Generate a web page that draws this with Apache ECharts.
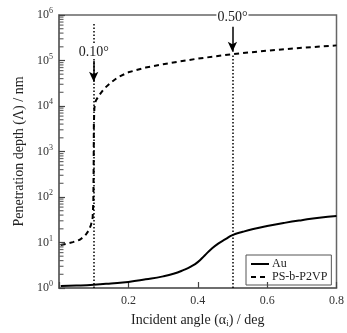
<!DOCTYPE html>
<html>
<head>
<meta charset="utf-8">
<script src="https://cdn.jsdelivr.net/npm/echarts@6/dist/echarts.min.js"></script>
<style>
  html, body { margin: 0; padding: 0; background: #fff; }
  #chart { width: 347px; height: 333px; }
</style>
</head>
<body>
<div id="chart"></div>
<script>
// Au (solid)
const auX = [0.005, 0.05, 0.1, 0.15, 0.2, 0.25, 0.3, 0.33, 0.36, 0.38, 0.4, 0.42, 0.44, 0.46, 0.48, 0.5, 0.53, 0.56, 0.6, 0.65, 0.7, 0.75, 0.8];
const auY = [1.1, 1.13, 1.18, 1.26, 1.36, 1.55, 1.8, 2.05, 2.5, 2.95, 3.7, 5.2, 7.3, 9.6, 11.8, 14.5, 17.2, 19.8, 23, 27, 31, 35, 38];

// PS-b-P2VP (dashed)
const psX = [0.005, 0.02, 0.04, 0.06, 0.075, 0.085, 0.092, 0.097, 0.099, 0.1, 0.1005, 0.102, 0.106, 0.115, 0.13, 0.15, 0.17, 0.2, 0.25, 0.3, 0.35, 0.4, 0.5, 0.6, 0.7, 0.8];
const psY = [8.8, 9.3, 10.2, 11.5, 14, 18, 24, 35, 80, 600, 4000, 9000, 1.3e4, 1.7e4, 2.4e4, 3.3e4, 4.3e4, 5.5e4, 7.0e4, 8.3e4, 9.6e4, 1.1e5, 1.38e5, 1.65e5, 1.9e5, 2.15e5];

// reference angles with arrows
const refAngles = [0.1, 0.5];
const refLabels = ['0.10\u00b0', '0.50\u00b0'];
const refBottom = 1;
const refTops = [6.8e5, 1.3e5];
const arrowFrom = [9.7e4, 5.5e5];
const arrowTo = [3.4e4, 1.55e5];

// log minor ticks
const minorTicks = [];
for (let e = 0; e < 6; e++) {
  for (let m = 2; m <= 9; m++) minorTicks.push(m * Math.pow(10, e));
}

const serif = '"Liberation Serif", "DejaVu Serif", serif';
const textColor = '#333';

const chart = echarts.init(document.getElementById('chart'));

const refLines = refAngles.map((a, i) => [
  { coord: [a, refBottom] },
  { coord: [a, refTops[i]] },
]);
const arrowLines = refAngles.map((a, i) => [
  { coord: [a, arrowFrom[i]], name: refLabels[i] },
  { coord: [a, arrowTo[i]] },
]);

const option = {
  animation: false,
  grid: {
    left: 59,
    right: 9,
    top: 15,
    bottom: 39,
    show: true,
    borderColor: '#666',
    borderWidth: 1.5,
  },
  legend: {
    orient: 'vertical',
    left: 246,
    top: 255,
    borderColor: '#555',
    borderWidth: 1,
    padding: [3, 4, 2, 4],
    itemGap: 1,
    itemWidth: 18,
    itemHeight: 10,
    itemStyle: { opacity: 0 },
    data: ['Au', 'PS-b-P2VP'],
    textStyle: { fontFamily: serif, fontSize: 12, color: '#222', padding: [0, 0, 0, -2] },
  },
  xAxis: {
    type: 'value',
    min: 0,
    max: 0.8,
    interval: 0.2,
    name: 'Incident angle (\u03b1{sub|i}) / deg',
    nameLocation: 'middle',
    nameGap: 24,
    nameTextStyle: {
      fontFamily: serif,
      fontSize: 14,
      color: '#222',
      rich: { sub: { fontFamily: serif, fontSize: 9, color: '#222', padding: [7, 0, 0, 0] } },
    },
    axisLine: { show: true, lineStyle: { color: '#666', width: 1.5 } },
    axisTick: { show: true, inside: true, length: 6, lineStyle: { color: '#444', width: 1.2 } },
    axisLabel: {
      fontFamily: serif,
      fontSize: 12,
      color: textColor,
      margin: 7,
      formatter: (v) => (v === 0 ? '' : v.toFixed(1)),
    },
    splitLine: { show: false },
  },
  yAxis: {
    type: 'log',
    min: 1,
    max: 1e6,
    logBase: 10,
    name: 'Penetration depth (\u039b) / nm',
    nameLocation: 'middle',
    nameGap: 31,
    nameRotate: 90,
    nameTextStyle: { fontFamily: serif, fontSize: 14, color: '#222' },
    axisLine: { show: true, lineStyle: { color: '#666', width: 1.5 } },
    axisTick: { show: true, inside: true, length: 6, lineStyle: { color: '#444', width: 1.2 } },
    axisLabel: {
      fontFamily: serif,
      fontSize: 12,
      color: textColor,
      margin: 6,
      formatter: (v) => '10{sup|' + Math.round(Math.log10(v)) + '}',
      rich: { sup: { fontFamily: serif, fontSize: 8, color: textColor, padding: [0, 0, 8, 0] } },
    },
    splitLine: { show: false },
  },
  series: [
    {
      name: 'Au',
      type: 'line',
      symbol: 'none',
      smooth: true,
      data: auX.map((x, i) => [x, auY[i]]),
      lineStyle: { color: '#000', width: 2 },
      itemStyle: { color: '#000' },
      z: 3,
    },
    {
      name: 'PS-b-P2VP',
      type: 'line',
      symbol: 'none',
      data: psX.map((x, i) => [x, psY[i]]),
      lineStyle: { color: '#000', width: 2, type: [5, 4] },
      itemStyle: { color: '#000' },
      z: 3,
    },
    {
      name: 'refs',
      type: 'line',
      data: [],
      silent: true,
      markLine: {
        silent: true,
        animation: false,
        symbol: 'none',
        label: { show: false },
        lineStyle: { color: '#000', width: 1.5, type: [1.5, 2] },
        data: refLines,
      },
      z: 2,
    },
    {
      name: 'arrows',
      type: 'line',
      data: [],
      silent: true,
      markLine: {
        silent: true,
        animation: false,
        symbol: ['none', 'arrow'],
        symbolSize: [7, 10],
        lineStyle: { color: '#000', width: 1.5, type: 'solid' },
        label: {
          show: true,
          position: 'start',
          distance: 2,
          formatter: (p) => p.name,
          fontFamily: serif,
          fontSize: 14,
          color: '#222',
          backgroundColor: '#fff',
          padding: [0, 1],
        },
        data: arrowLines,
      },
      z: 5,
    },
    {
      name: 'minorTicks',
      type: 'scatter',
      silent: true,
      clip: false,
      symbol: 'rect',
      symbolSize: [4, 1.2],
      symbolOffset: [2.5, 0],
      itemStyle: { color: '#444' },
      data: minorTicks.map((v) => [0, v]),
      z: 4,
    },
  ],
};

chart.setOption(option);
</script>
</body>
</html>
